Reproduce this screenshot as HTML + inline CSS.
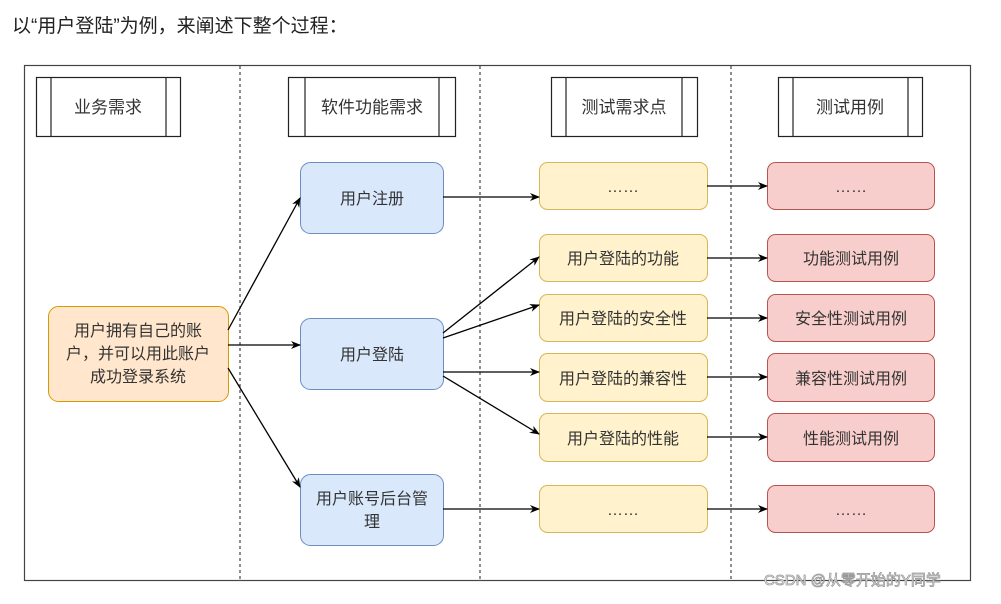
<!DOCTYPE html>
<html><head><meta charset="utf-8"><style>
body{margin:0;width:1001px;height:599px;background:#fff;overflow:hidden;font-family:"Liberation Sans","Noto Sans CJK SC",sans-serif;}
svg text{font-family:"Liberation Sans","Noto Sans CJK SC",sans-serif;fill:#333;}
</style></head><body>
<svg width="1001" height="599" xmlns="http://www.w3.org/2000/svg">
<defs><marker id="a" markerWidth="10" markerHeight="10" refX="9" refY="5" orient="auto" markerUnits="userSpaceOnUse"><path d="M0,1 L10,5 L0,9 L3,5 Z" fill="#000"/></marker></defs>
<text x="12" y="32" font-size="19" style="fill:#222">以“用户登陆”为例，来阐述下整个过程：</text>
<rect x="24.5" y="65.5" width="946" height="515" fill="none" stroke="#444" stroke-width="1.2"/>
<g stroke="#444" stroke-dasharray="3,3" stroke-width="1.2">
<line x1="240" y1="66" x2="240" y2="580"/><line x1="480" y1="66" x2="480" y2="580"/><line x1="731" y1="66" x2="731" y2="580"/></g>
<g fill="#fff" stroke="#222" stroke-width="1.2">
<rect x="36.5" y="77.5" width="144" height="59"/><line x1="51" y1="77" x2="51" y2="137"/><line x1="166" y1="77" x2="166" y2="137"/>
<rect x="288.5" y="77.5" width="167" height="59"/><line x1="305" y1="77" x2="305" y2="137"/><line x1="439" y1="77" x2="439" y2="137"/>
<rect x="551.5" y="77.5" width="146" height="59"/><line x1="566" y1="77" x2="566" y2="137"/><line x1="682" y1="77" x2="682" y2="137"/>
<rect x="778.5" y="77.5" width="144" height="59"/><line x1="793" y1="77" x2="793" y2="137"/><line x1="908" y1="77" x2="908" y2="137"/>
</g>
<g font-size="17" text-anchor="middle">
<text x="108" y="113">业务需求</text><text x="372" y="113">软件功能需求</text><text x="624" y="113">测试需求点</text><text x="850" y="113">测试用例</text></g>
<rect x="48.5" y="306.5" width="180" height="95" rx="10" fill="#ffe6cc" stroke="#d79b00"/>
<g font-size="16" text-anchor="middle"><text x="138" y="336">用户拥有自己的账</text><text x="138" y="359">户，并可以用此账户</text><text x="138" y="382">成功登录系统</text></g>
<g fill="#dae8fc" stroke="#6c8ebf">
<rect x="300.5" y="162.5" width="143" height="71" rx="10"/><rect x="300.5" y="318.5" width="143" height="71" rx="10"/><rect x="300.5" y="474.5" width="143" height="71" rx="10"/></g>
<g font-size="16" text-anchor="middle"><text x="372" y="204">用户注册</text><text x="372" y="360">用户登陆</text><text x="372" y="504">用户账号后台管</text><text x="372" y="527">理</text></g>
<g fill="#fff2cc" stroke="#d6b656">
<rect x="539.5" y="162.5" width="168" height="47" rx="8"/><rect x="539.5" y="234.5" width="168" height="47" rx="8"/><rect x="539.5" y="294.5" width="168" height="47" rx="8"/><rect x="539.5" y="353.5" width="168" height="48" rx="8"/><rect x="539.5" y="413.5" width="168" height="48" rx="8"/><rect x="539.5" y="485.5" width="168" height="47" rx="8"/></g>
<g fill="#f8cecc" stroke="#b85450">
<rect x="767.5" y="162.5" width="167" height="47" rx="8"/><rect x="767.5" y="234.5" width="167" height="47" rx="8"/><rect x="767.5" y="294.5" width="167" height="47" rx="8"/><rect x="767.5" y="353.5" width="167" height="48" rx="8"/><rect x="767.5" y="413.5" width="167" height="48" rx="8"/><rect x="767.5" y="485.5" width="167" height="47" rx="8"/></g>
<g font-size="16" text-anchor="middle">
<text x="623" y="192">……</text><text x="623" y="264">用户登陆的功能</text><text x="623" y="324">用户登陆的安全性</text><text x="623" y="384">用户登陆的兼容性</text><text x="623" y="444">用户登陆的性能</text><text x="623" y="515">……</text>
<text x="851" y="192">……</text><text x="851" y="264">功能测试用例</text><text x="851" y="324">安全性测试用例</text><text x="851" y="384">兼容性测试用例</text><text x="851" y="444">性能测试用例</text><text x="851" y="515">……</text></g>
<g stroke="#000" stroke-width="1.3" marker-end="url(#a)">
<line x1="228" y1="330" x2="300" y2="198"/><line x1="228" y1="345" x2="300" y2="345"/><line x1="228" y1="368" x2="300" y2="487"/>
<line x1="443" y1="197" x2="539" y2="197"/><line x1="443" y1="333" x2="539" y2="257"/><line x1="443" y1="338" x2="539" y2="305"/><line x1="443" y1="372" x2="539" y2="372"/><line x1="443" y1="376" x2="539" y2="434"/><line x1="443" y1="509" x2="539" y2="509"/>
<line x1="707" y1="186" x2="767" y2="186"/><line x1="707" y1="258" x2="767" y2="258"/><line x1="707" y1="318" x2="767" y2="318"/><line x1="707" y1="377" x2="767" y2="377"/><line x1="707" y1="437" x2="767" y2="437"/><line x1="707" y1="509" x2="767" y2="509"/></g>
<text x="764" y="585" font-size="15" style="fill:#fff;stroke:#999;stroke-width:0.8">CSDN @从零开始的Y同学</text>
</svg>
</body></html>
